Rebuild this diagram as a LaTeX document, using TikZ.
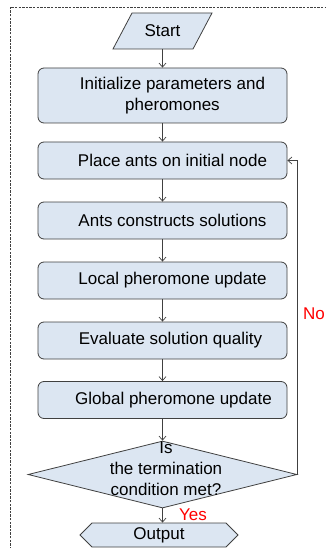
\documentclass[tikz,border=0pt]{standalone}
\usepackage{fontspec}
\setmainfont{Liberation Sans}
\usetikzlibrary{shapes.geometric,shapes.symbols,arrows.meta}
\definecolor{boxfill}{HTML}{DCE6F2}
\definecolor{edge}{HTML}{404040}
\begin{document}
\begin{tikzpicture}[x=1pt,y=-1pt,
  every node/.style={font=\fontsize{17}{21}\selectfont},
  shapeline/.style={draw=edge, line width=0.8pt, fill=boxfill},
  procbox/.style={shapeline, rounded corners=6pt, minimum width=249pt, minimum height=37pt, inner sep=0pt},
  boxtext/.style={align=center, inner sep=0pt},
  flow/.style={draw=edge, line width=0.7pt, -{Straight Barb[length=4pt,width=7pt]}},
  answer/.style={text=red, inner sep=0pt}]

\useasboundingbox (0,0) rectangle (325,548);

% dashed frame (only left and top edges fall inside the page)
\draw[edge, line width=0.6pt, dash pattern=on 2.4pt off 1.2pt] (10,560) -- (10,7) -- (340,7);

% start: parallelogram leaning to the right
\draw[shapeline] (113,49) -- (132,13) -- (212,13) -- (193,49) -- cycle;
\node[minimum width=80pt, minimum height=36pt, inner sep=0pt] (start) at (162.5,31) {Start};

% process steps
\node[procbox, minimum height=55pt] (b1) at (162.5,95.5) {};
\node[procbox] (b2) at (162.5,160.5) {};
\node[procbox] (b3) at (162.5,220.5) {};
\node[procbox] (b4) at (162.5,280.5) {};
\node[procbox] (b5) at (162.5,340.5) {};
\node[procbox] (b6) at (162.5,400) {};

\node[boxtext] (t1) at ([xshift=10pt]b1.center) {Initialize parameters and\\pheromones};
\node[boxtext] (t2) at ([xshift=10pt]b2.center) {Place ants on initial node};
\node[boxtext] (t3) at ([xshift=10pt]b3.center) {Ants constructs solutions};
\node[boxtext] (t4) at ([xshift=10pt]b4.center) {Local pheromone update};
\node[boxtext] (t5) at ([xshift=8pt]b5.center) {Evaluate solution quality};
\node[boxtext] (t6) at ([xshift=11pt]b6.center) {Global pheromone update};

% decision
\node[shapeline, diamond, minimum width=269pt, minimum height=67pt, inner sep=0pt]
      (cond) at (162.5,474.5) {};
\node[boxtext] (ctext) at (166,469) {Is\\the termination\\condition met?};

% output
\node[shapeline, signal, signal to=east and west, signal pointer angle=90,
      minimum width=158pt, minimum height=24pt, inner sep=0pt]
      (out) at (159,535) {Output};

% connectors
\draw[flow] (start) -- (b1);
\draw[flow] (b1) -- (b2);
\draw[flow] (b2) -- (b3);
\draw[flow] (b3) -- (b4);
\draw[flow] (b4) -- (b5);
\draw[flow] (b5) -- (b6);
\draw[flow] (b6) -- (cond.north);
\draw[flow] (cond.south) -- (cond.south |- out.north);
\draw[flow] (cond.east) -- (cond.east |- b2.east) -- (b2.east);

% branch labels
\node[answer] (no) at (314,314) {No};
\node[answer] (yes) at (193,515) {Yes};
\end{tikzpicture}
\end{document}
